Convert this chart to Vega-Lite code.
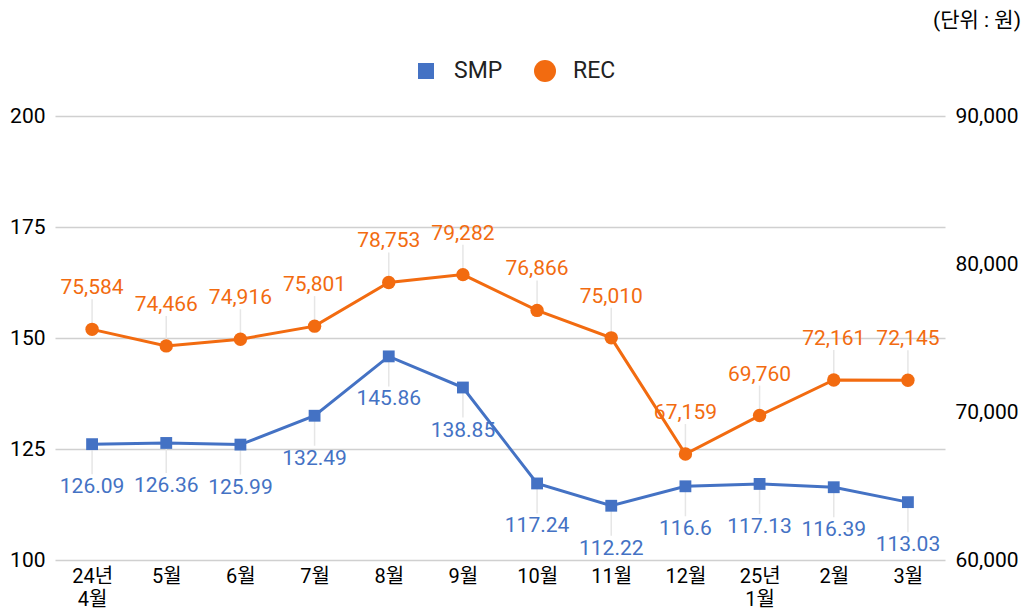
{
  "$schema": "https://vega.github.io/schema/vega-lite/v6.json",
  "width": 890,
  "height": 444,
  "autosize": {"type": "none"},
  "padding": {"left": 55, "top": 116, "right": 82, "bottom": 50},
  "background": "white",
  "config": {
    "font": "Roboto, 'Noto Sans CJK KR', sans-serif",
    "view": {"stroke": null},
    "legend": {"labelFont": "Roboto, 'Noto Sans CJK KR', sans-serif"}
  },
  "title": {
    "text": "(단위 : 원)",
    "anchor": "end",
    "frame": "group",
    "orient": "top",
    "offset": 28,
    "dx": 76,
    "fontSize": 21,
    "fontWeight": "normal",
    "color": "#000000"
  },
  "data": {
    "values": [
      {"month": "24년 4월", "series": "SMP", "value": 126.09},
      {"month": "5월", "series": "SMP", "value": 126.36},
      {"month": "6월", "series": "SMP", "value": 125.99},
      {"month": "7월", "series": "SMP", "value": 132.49},
      {"month": "8월", "series": "SMP", "value": 145.86},
      {"month": "9월", "series": "SMP", "value": 138.85},
      {"month": "10월", "series": "SMP", "value": 117.24},
      {"month": "11월", "series": "SMP", "value": 112.22},
      {"month": "12월", "series": "SMP", "value": 116.6},
      {"month": "25년 1월", "series": "SMP", "value": 117.13},
      {"month": "2월", "series": "SMP", "value": 116.39},
      {"month": "3월", "series": "SMP", "value": 113.03},
      {"month": "24년 4월", "series": "REC", "value": 75584},
      {"month": "5월", "series": "REC", "value": 74466},
      {"month": "6월", "series": "REC", "value": 74916},
      {"month": "7월", "series": "REC", "value": 75801},
      {"month": "8월", "series": "REC", "value": 78753},
      {"month": "9월", "series": "REC", "value": 79282},
      {"month": "10월", "series": "REC", "value": 76866},
      {"month": "11월", "series": "REC", "value": 75010},
      {"month": "12월", "series": "REC", "value": 67159},
      {"month": "25년 1월", "series": "REC", "value": 69760},
      {"month": "2월", "series": "REC", "value": 72161},
      {"month": "3월", "series": "REC", "value": 72145}
    ]
  },
  "encoding": {
    "x": {
      "field": "month",
      "type": "ordinal",
      "sort": ["24년 4월", "5월", "6월", "7월", "8월", "9월", "10월", "11월", "12월", "25년 1월", "2월", "3월"],
      "scale": {"type": "point", "padding": 0.5},
      "axis": {
        "title": null,
        "domain": false,
        "ticks": false,
        "labelAngle": 0,
        "labelPadding": 6,
        "labelFontSize": 20,
        "labelLineHeight": 23,
        "labelColor": "#000000",
        "labelExpr": "split(datum.label, ' ')"
      }
    }
  },
  "layer": [
    {
      "transform": [{"filter": "datum.series === 'SMP'"}],
      "encoding": {
        "y": {
          "field": "value",
          "type": "quantitative",
          "scale": {"domain": [100, 200], "nice": false, "zero": false},
          "axis": {
            "title": null,
            "orient": "left",
            "values": [100, 125, 150, 175, 200],
            "domain": false,
            "ticks": false,
            "labelPadding": 10,
            "labelFontSize": 21,
            "labelColor": "#000000",
            "gridColor": "#d0d0d0",
            "gridWidth": 1.5,
            "grid": true
          }
        }
      },
      "layer": [
        {
          "mark": {"type": "rule", "color": "#e6e6e6", "strokeWidth": 1.5, "y2Offset": 30},
          "encoding": {"y2": {"field": "value"}}
        },
        {
          "mark": {"type": "line", "color": "#4472C4", "strokeWidth": 3}
        },
        {
          "mark": {"type": "point", "filled": true, "opacity": 1, "size": 140},
          "encoding": {
            "color": {"field": "series", "type": "nominal", "scale": {"domain": ["SMP", "REC"], "range": ["#4472C4", "#F26B10"]}, "legend": {"title": null, "orient": "none", "legendX": 359, "legendY": -57, "direction": "horizontal", "labelFontSize": 23, "labelColor": "#222222", "symbolSize": 300, "columnPadding": 30, "labelOffset": 16, "symbolOpacity": 1, "encode": {"symbols": {"update": {"size": {"signal": "datum.value === 'SMP' ? 256 : 484"}}}}}},
            "shape": {"field": "series", "type": "nominal", "scale": {"domain": ["SMP", "REC"], "range": ["square", "circle"]}, "legend": {"title": null, "orient": "none", "legendX": 359, "legendY": -57, "direction": "horizontal", "labelFontSize": 23, "labelColor": "#222222", "symbolSize": 300, "columnPadding": 30, "labelOffset": 16, "symbolOpacity": 1, "encode": {"symbols": {"update": {"size": {"signal": "datum.value === 'SMP' ? 256 : 484"}}}}}}
          }
        },
        {
          "mark": {"type": "text", "color": "#4472C4", "fontSize": 21, "dy": 43, "baseline": "middle"},
          "encoding": {"text": {"field": "value", "type": "quantitative", "format": ".2~f"}}
        }
      ]
    },
    {
      "transform": [{"filter": "datum.series === 'REC'"}],
      "encoding": {
        "y": {
          "field": "value",
          "type": "quantitative",
          "scale": {"domain": [60000, 90000], "nice": false, "zero": false},
          "axis": {
            "title": null,
            "orient": "right",
            "values": [60000, 70000, 80000, 90000],
            "labelExpr": "format(datum.value, ',')",
            "domain": false,
            "ticks": false,
            "grid": false,
            "labelPadding": 10,
            "labelFontSize": 21,
            "labelColor": "#000000"
          }
        }
      },
      "layer": [
        {
          "mark": {"type": "rule", "color": "#e6e6e6", "strokeWidth": 1.5, "y2Offset": -30},
          "encoding": {"y2": {"field": "value"}}
        },
        {
          "mark": {"type": "line", "color": "#F26B10", "strokeWidth": 3}
        },
        {
          "mark": {"type": "point", "filled": true, "opacity": 1, "size": 180},
          "encoding": {
            "color": {"field": "series", "type": "nominal"},
            "shape": {"field": "series", "type": "nominal"}
          }
        },
        {
          "mark": {"type": "text", "color": "#F26B10", "fontSize": 21, "dy": -41, "baseline": "middle"},
          "encoding": {"text": {"field": "value", "type": "quantitative", "format": ","}}
        }
      ]
    }
  ],
  "resolve": {"scale": {"y": "independent"}}
}
